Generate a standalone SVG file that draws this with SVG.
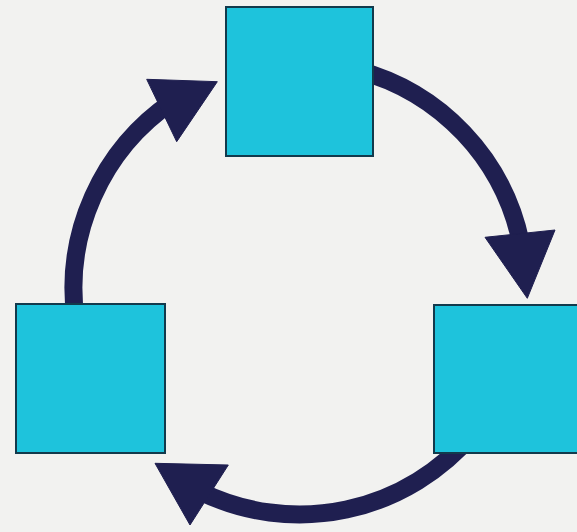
<svg xmlns="http://www.w3.org/2000/svg" width="577" height="532" viewBox="0 0 577 532">
  <style>
    .bg { fill: #f2f2f0; }
    .node { fill: #1ec3dc; stroke: #123a4c; stroke-width: 2; }
    .shaft { fill: none; stroke: #1f1f50; stroke-width: 18; }
    .head { fill: #1f1f50; stroke: #1f1f50; stroke-width: 1; stroke-linejoin: round; }
  </style>
  <rect class="bg" x="0" y="0" width="577" height="532"/>
  <g id="connectors">
    <g id="edge-top-right">
      <path class="shaft" d="M 358 70.2 A 226 226 0 0 1 520.6 241.5"/>
      <polygon class="head" points="485,237.3 555,230 527.3,298.3"/>
    </g>
    <g id="edge-right-left">
      <path class="shaft" d="M 472.6 433.8 A 226 226 0 0 1 200.4 491.6"/>
      <polygon class="head" points="228.3,465 190,525 155,463.3"/>
    </g>
    <g id="edge-left-top">
      <path class="shaft" d="M 75.7 320 A 226 226 0 0 1 173.1 101.1"/>
      <polygon class="head" points="146.7,79.3 217.3,81.7 176.7,141.7"/>
    </g>
  </g>
  <g id="node-top">
    <rect class="node" x="226" y="7" width="147" height="149"/>
  </g>
  <g id="node-left">
    <rect class="node" x="16" y="304" width="149" height="149"/>
  </g>
  <g id="node-right">
    <rect class="node" x="434" y="305" width="150" height="148"/>
  </g>
</svg>
